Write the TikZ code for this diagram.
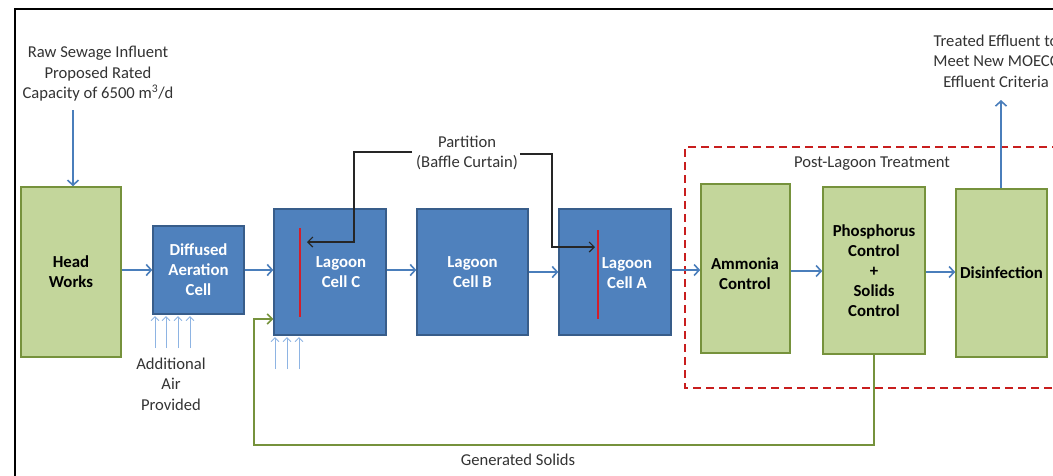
\documentclass[tikz,border=0pt]{standalone}
\usepackage{fontspec}
\setmainfont{Carlito}
\usetikzlibrary{arrows.meta}
\definecolor{gfill}{HTML}{C3D69B}
\definecolor{gdraw}{HTML}{76923C}
\definecolor{bfill}{HTML}{4F81BD}
\definecolor{bdraw}{HTML}{385D8A}
\definecolor{flowc}{HTML}{4A7EBB}
\definecolor{airc}{HTML}{8EB4E3}
\definecolor{redc}{HTML}{D21E2B}
\definecolor{dashc}{HTML}{C81E1E}
\tikzset{
  boxfont/.style={font=\fontsize{16.8}{20}\selectfont\bfseries},
  gbox/.style={draw=gdraw, fill=gfill, line width=1.6pt, inner sep=0pt, boxfont, align=center, text=black},
  bbox/.style={draw=bdraw, fill=bfill, line width=1.4pt, inner sep=0pt, boxfont, align=center, text=white},
  btext/.style={boxfont, align=center, text=white, inner sep=0pt},
  gtext/.style={boxfont, align=center, text=black, inner sep=0pt},
  lbl/.style={font=\fontsize{16.6}{20.5}\selectfont, align=center, text=black!80, inner sep=0pt},
  flow/.style={draw=flowc, line width=2pt, -{Straight Barb[length=5pt,width=11pt,line width=1.6pt]}},
  air/.style={draw=airc, line width=1pt, -{Straight Barb[length=4pt,width=8pt,line width=0.9pt]}},
  ptr/.style={draw=black!85, line width=1.2pt, -{Straight Barb[length=5pt,width=10pt,line width=1.2pt]}},
  solids/.style={draw=gdraw, line width=1.8pt, -{Straight Barb[length=5pt,width=10pt,line width=1.6pt]}},
  curtain/.style={draw=redc, line width=2.2pt},
}
\begin{document}
\begin{tikzpicture}[x=1pt,y=-1pt]
\useasboundingbox (0,0) rectangle (1053,475);
\clip (0,0) rectangle (1053,475);
\fill[white] (0,0) rectangle (1053,475);
% frame
\draw[black, line width=2.6pt] (15,476) -- (15,9) -- (1054,9);

% text labels
\node[lbl] (raw) at (98,74) {Raw Sewage Influent\\Proposed Rated\\Capacity of 6500 m\textsuperscript{3}/d};
\node[lbl] (addair) at (171,384) {Additional\\Air\\Provided};
\node[lbl] (part) at (467,153) {Partition\\(Baffle Curtain)};
\node[lbl] (post) at (872,164) {Post-Lagoon Treatment};
\node[lbl] (treated) at (996,61) {Treated Effluent to\\Meet New MOECC\\Effluent Criteria};
\node[lbl] (gensol) at (518,460) {Generated Solids};

% boxes
\node[gbox, minimum width=100pt, minimum height=170pt] (hw) at (71,272) {Head\\Works};
\node[bbox, minimum width=91pt, minimum height=88pt] (dac) at (198.5,270) {Diffused\\Aeration\\Cell};
\node[bbox, minimum width=112pt, minimum height=126pt] (lc) at (330,272) {};
\node[btext] (lct) at (341,272) {Lagoon\\Cell C};
\node[bbox, minimum width=111pt, minimum height=126pt] (lb) at (472.5,272) {Lagoon\\Cell B};
\node[bbox, minimum width=112pt, minimum height=126pt] (la) at (615,272) {};
\node[btext] (lat) at (627,273) {Lagoon\\Cell A};
\node[gbox, minimum width=89pt, minimum height=169pt] (am) at (745.5,268.5) {};
\node[gtext] (amt) at (745,274) {Ammonia\\Control};
\node[gbox, minimum width=102pt, minimum height=167pt] (ph) at (874,270.5) {Phosphorus\\Control\\+\\Solids\\Control};
\node[gbox, minimum width=91pt, minimum height=168pt] (dis) at (1001.5,273) {Disinfection};

% partition curtains
\coordinate (cCt) at (300,228);
\coordinate (cCb) at (300,317);
\coordinate (cAt) at (598,230);
\coordinate (cAb) at (598,319);
\draw[curtain] (cCt) -- (cCb);
\draw[curtain] (cAt) -- (cAb);

% post-lagoon dashed box
\draw[dashc, line width=2pt, dash pattern=on 8pt off 5pt] (1060,147) -- (685,147) -- (685,388) -- (1060,388);

% flow arrows
\coordinate (rawin) at (73,110);
\draw[flow] (rawin) -- (rawin |- hw.north);
\draw[flow] (hw.east |- 0,270) -- (dac.west |- 0,270);
\draw[flow] (dac.east |- 0,270) -- (lc.west |- 0,270);
\draw[flow] (lc.east |- 0,270) -- (lb.west |- 0,270);
\draw[flow] (lb.east |- 0,272) -- (la.west |- 0,272);
\draw[flow] (la.east |- 0,270) -- (am.west |- 0,270);
\draw[flow] (am.east |- 0,271) -- (ph.west |- 0,271);
\draw[flow] (ph.east |- 0,272) -- (dis.west |- 0,272);
\coordinate (effout) at (1001,100);
\draw[flow] (dis.north -| effout) -- (effout);

% additional air
\foreach \x in {155,166,178,190} { \draw[air] (\x,348) -- (\x,316); }
\foreach \x in {275,287,299} { \draw[air] (\x,369) -- (\x,337); }

% partition pointers
\coordinate (pC) at (307,242);
\coordinate (pA) at (595,247);
\draw[ptr] (part.west |- 0,152) ++(-4,0) -- (354,152) -- (354,242) -- (pC);
\draw[ptr] (part.east |- 0,154) ++(2,0) -- (552,154) -- (552,247) -- (pA);

% generated solids return
\coordinate (gsR) at (874,445);
\coordinate (gsL) at (254,445);
\draw[solids] (ph.south) -- (gsR) -- (gsL) -- (254,319) -- (lc.west |- 0,319);
\end{tikzpicture}
\end{document}
